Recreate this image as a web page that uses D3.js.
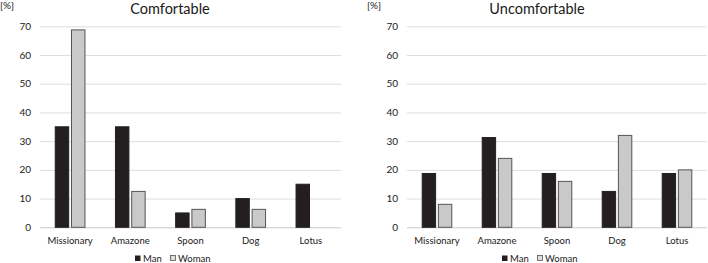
<!DOCTYPE html>
<html><head><meta charset="utf-8">
<script src="https://cdn.jsdelivr.net/npm/d3@7"></script>
<style>body{margin:0;background:#fff}svg{display:block}text{font-family:Lato,"Open Sans",sans-serif;fill:#1a1a1a}</style>
</head><body><svg id="c" width="708" height="263"></svg>
<script>
const categories = ["Missionary","Amazone","Spoon","Dog","Lotus"];
const series = ["Man","Woman"];
const comfortMan = [35,35,5,10,15];
const comfortWoman = [68.75,12.5,6.25,6.25,0];
const uncomfortMan = [18.75,31.25,18.75,12.5,18.75];
const uncomfortWoman = [8,24,16,32,20];
const yTicks = [0,10,20,30,40,50,60,70];
const titles = ["Comfortable","Uncomfortable"];

const svg = d3.select("#c");
const colors = {Man:"#231f20", Woman:"#c9c9c9"};
const strokes = {Man:"#231f20", Woman:"#555"};
const y = d3.scaleLinear().domain([0,70]).range([227.3,26.3]);

const panels = [
  {title:titles[0], man:comfortMan, woman:comfortWoman, x0:40, x1:341, tickX:31, unitX:0, titleX:170, legendX:172},
  {title:titles[1], man:uncomfortMan, woman:uncomfortWoman, x0:407, x1:707, tickX:398, unitX:367, titleX:537, legendX:539}
];

panels.forEach(p=>{
  const g = svg.append("g");
  const x = d3.scaleBand().domain(categories).range([p.x0,p.x1]).paddingInner(0.49).paddingOuter(0.245);
  const xs = d3.scaleBand().domain(series).range([0,x.bandwidth()]).paddingInner(0.11);
  g.selectAll("line.grid").data(yTicks).join("line")
    .attr("x1",p.x0).attr("x2",p.x1)
    .attr("y1",d=>y(d)+0.5).attr("y2",d=>y(d)+0.5)
    .attr("stroke",d=>d===0?"#c8c8c8":"#dedede").attr("stroke-width",1);
  g.selectAll("text.yt").data(yTicks).join("text")
    .attr("x",p.tickX).attr("y",d=>y(d)).attr("dy","0.35em")
    .attr("text-anchor","end").attr("font-size",10).text(d=>d);
  g.append("text").attr("x",p.unitX).attr("y",9).attr("font-size",10).text("[%]");
  g.append("text").attr("x",p.titleX).attr("y",13.5).attr("text-anchor","middle").attr("font-size",14.5).text(p.title);
  const data = [];
  categories.forEach((c,i)=>{
    data.push({c, s:"Man", v:p.man[i]});
    data.push({c, s:"Woman", v:p.woman[i]});
  });
  g.selectAll("rect.bar").data(data.filter(d=>d.v>0)).join("rect")
    .attr("x",d=>x(d.c)+xs(d.s)+0.5).attr("width",xs.bandwidth()-1)
    .attr("y",d=>y(d.v)).attr("height",d=>y(0)-y(d.v))
    .attr("fill",d=>colors[d.s]).attr("stroke",d=>strokes[d.s]).attr("stroke-width",1);
  g.selectAll("text.xl").data(categories).join("text")
    .attr("x",d=>x(d)+x.bandwidth()/2).attr("y",243.5)
    .attr("text-anchor","middle").attr("font-size",9.5).text(d=>d);
  const lg = g.append("g").attr("transform",`translate(${p.legendX-37},0)`);
  lg.append("rect").attr("x",0).attr("y",255.5).attr("width",5.5).attr("height",5.5).attr("fill",colors.Man);
  lg.append("text").attr("x",8).attr("y",262).attr("font-size",9.5).text(series[0]);
  lg.append("rect").attr("x",35.5).attr("y",255.5).attr("width",5).attr("height",5).attr("fill","#ddd").attr("stroke","#555").attr("stroke-width",0.8);
  lg.append("text").attr("x",43).attr("y",262).attr("font-size",9.5).text(series[1]);
});
</script></body></html>
